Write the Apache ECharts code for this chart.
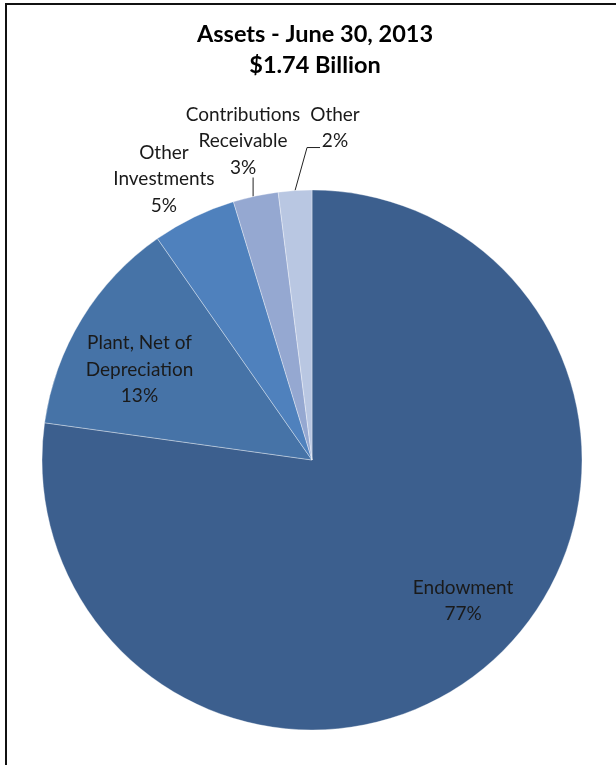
<!DOCTYPE html>
<html><head><meta charset="utf-8">
<script src="https://cdn.jsdelivr.net/npm/echarts@6/dist/echarts.min.js"></script>
<style>html,body{margin:0;padding:0;background:#fff;overflow:hidden}#c{width:616px;height:765px}</style>
</head><body><div id="c"></div>
<script>
// Data
const categories = ['Endowment', 'Plant, Net of\nDepreciation', 'Other\nInvestments', 'Contributions\nReceivable', 'Other'];
const shares = [77.2, 13.1, 5.0, 2.7, 2.0];   // percent of $1.74B total assets
const titleLines = ['Assets - June 30, 2013', '$1.74 Billion'];

// Style / layout config
const colors = ['#3C5F8E', '#4673A7', '#4F81BD', '#95A8D1', '#B9C7E2'];
const CX = 312, CY = 460, R = 270;
// label placement: angle (deg clockwise from 12 o'clock) and radius factor
const labelPlace = [
  {a: 133, f: 0.765},
  {a: 297.6, f: 0.721},
  {a: 332.2, f: 1.176},
  {a: 347.8, f: 1.209},
  {a: 3.96, f: 1.233}
];
// leader lines: start angle on the rim, then relative segments
const leaders = [null, null, null,
  {a: 347.4, segs: [[0, -19]]},
  {a: 356.4, segs: [[12, -43], [13, 0]]}
];

function polar(a, r) {
  const t = a * Math.PI / 180;
  return [CX + r * Math.sin(t), CY - r * Math.cos(t)];
}

const chart = echarts.init(document.getElementById('c'));
chart.setOption({
  backgroundColor: '#fff',
  animation: false,
  title: {
    text: titleLines.join('\n'),
    left: 310, top: 14, textAlign: 'center',
    textStyle: {fontFamily: 'Lato', fontWeight: 'bold', fontSize: 23.5, lineHeight: 31, color: '#000'}
  },
  graphic: [{
    type: 'rect', silent: true,
    shape: {x: 6, y: 4, width: 1000, height: 1000},
    style: {fill: 'none', stroke: '#111', lineWidth: 2}
  }],
  series: [{
    type: 'pie',
    center: [CX, CY],
    radius: [0, R],
    startAngle: 90,
    clockwise: true,
    avoidLabelOverlap: false,
    data: categories.map((n, i) => ({
      name: n, value: shares[i],
      itemStyle: {color: colors[i]},
      labelLine: {show: !!leaders[i]}
    })),
    itemStyle: {borderColor: 'rgba(255,255,255,0.35)', borderWidth: 1},
    label: {
      show: true,
      position: 'outside',
      alignTo: 'none',
      overflow: 'none',
      formatter: p => p.name + '\n' + Math.round(p.percent) + '%',
      fontFamily: 'Lato', fontSize: 19, lineHeight: 26.5, color: '#1a1a1a',
      align: 'center'
    },
    labelLine: {lineStyle: {color: '#222', width: 1}, smooth: false},
    labelLayout: function (params) {
      const i = params.dataIndex;
      const lp = labelPlace[i];
      const pos = polar(lp.a, lp.f * R);
      const out = {x: pos[0], y: pos[1], align: 'center', verticalAlign: 'middle', hideOverlap: false};
      const L = leaders[i];
      if (L) {
        const pts = [polar(L.a, R)];
        L.segs.forEach(s => {
          const last = pts[pts.length - 1];
          pts.push([last[0] + s[0], last[1] + s[1]]);
        });
        if (pts.length === 2) pts.push(pts[1].slice());
        out.labelLinePoints = pts;
      }
      return out;
    }
  }]
});
</script></body></html>
